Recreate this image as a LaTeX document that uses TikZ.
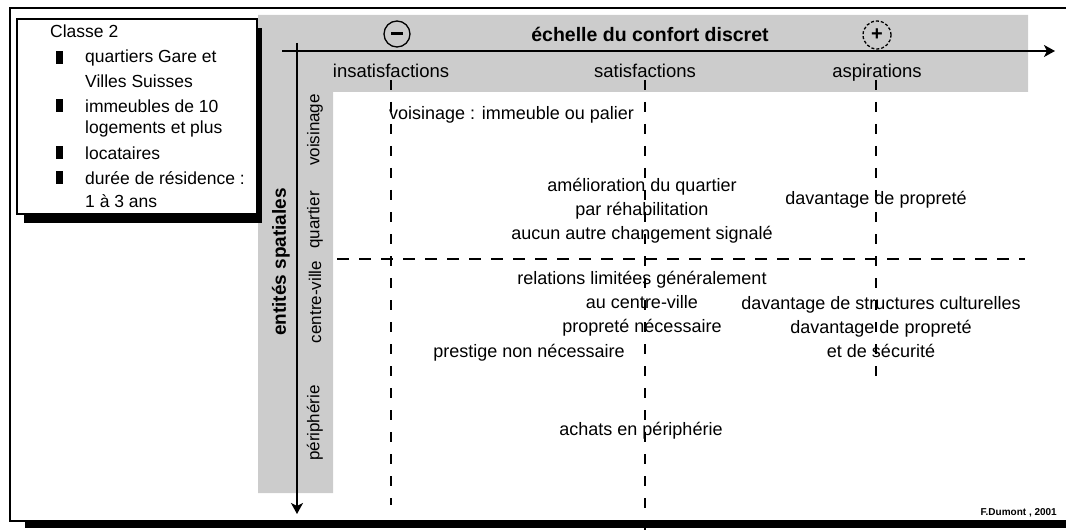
\documentclass[tikz,border=0pt]{standalone}
\usepackage{fontspec}
\setmainfont{Liberation Sans}
\usetikzlibrary{arrows.meta}
\tikzset{
  txt/.style={font=\fontsize{18}{24}\selectfont, inner sep=0pt, align=center},
  lgd/.style={font=\fontsize{17.5}{22}\selectfont, inner sep=0pt, anchor=west},
  hdr/.style={font=\fontsize{18.5}{20}\selectfont, inner sep=0pt, anchor=base},
  vlab/.style={font=\fontsize{17}{20}\selectfont, inner sep=0pt, rotate=90},
  bul/.style={fill=black, minimum width=7pt, minimum height=13pt, inner sep=0pt},
  grid/.style={line width=1.3pt, dash pattern=on 10pt off 12pt},
  axis/.style={line width=1.4pt, -{Stealth[length=11pt,width=12pt,inset=3pt]}},
  band/.style={fill=black!20, draw=none},
}
\begin{document}
\begin{tikzpicture}[x=1pt,y=-1pt]
\useasboundingbox (0,0) rectangle (1066,532);
% outer frame
\fill[black] (25,521) rectangle (1080,528);
\draw[line width=1.3pt] (10,8) rectangle (1080,521);
% gray band
\path[band] (258,15) -- (1028,15) -- (1028,92) -- (333,92) -- (333,493) -- (258,493) -- cycle;
% legend
\fill[black] (24,28) rectangle (262,223);
\draw[line width=1.5pt, fill=white] (17,19) rectangle (257,214);
\node[lgd] (cl) at (50,31) {Classe 2};
\node[bul] (b1) at (59,58) {};
\node[lgd] (l1) at (85,58) {quartiers Gare et};
\node[lgd] (l1b) at (85,81) {Villes Suisses};
\node[bul] (b2) at (59,106) {};
\node[lgd] (l2) at (85,106) {immeubles de 10};
\node[lgd] (l2b) at (85,129) {logements et plus};
\node[bul] (b3) at (59,153) {};
\node[lgd] (l3) at (85,153) {locataires};
\node[bul] (b4) at (59,178) {};
\node[lgd] (l4) at (85,178) {durée de résidence :};
\node[lgd] (l4b) at (85,201) {1 à 3 ans};
% axes
\coordinate (hx0) at (282,51);
\coordinate (hx1) at (1055,51);
\coordinate (vy0) at (297,43);
\coordinate (vy1) at (297,514);
\draw[axis] (hx0) -- (hx1);
\draw[axis] (vy0) -- (vy1);
% signs
\node[draw, circle, line width=1.3pt, minimum size=26pt, inner sep=0pt] (minus) at (397,34) {};
\fill (391,32) rectangle (403,35.5);
\node[draw, circle, line width=1.3pt, dash pattern=on 3pt off 2pt, minimum size=28pt, inner sep=0pt, font=\bfseries\fontsize{20}{20}\selectfont] (plus) at (877,35) {+};
\node[inner sep=0pt, font=\bfseries\fontsize{19.5}{20}\selectfont] (title) at (650,34) {échelle du confort discret};
\node[hdr] (h1) at (391,78) {insatisfactions};
\node[hdr] (h2) at (645,78) {satisfactions};
\node[hdr] (h3) at (877,78) {aspirations};
% vertical labels
\node[vlab, font=\bfseries\fontsize{19}{20}\selectfont] (ent) at (281,262) {entités spatiales};
\node[vlab] (v1) at (315,130) {voisinage};
\node[vlab] (v2) at (315,220) {quartier};
\node[vlab] (v3) at (315,302) {centre-ville};
\node[vlab] (v4) at (315,423) {périphérie};
% grid lines
\coordinate (g1a) at (391,80); \coordinate (g1b) at (391,505);
\coordinate (g2a) at (645,80); \coordinate (g2b) at (645,532);
\coordinate (g3a) at (876,80); \coordinate (g3b) at (876,380);
\coordinate (gha) at (337,259); \coordinate (ghb) at (1025,259);
\draw[grid] (g1a) -- (g1b);
\draw[grid] (g2a) -- (g2b);
\draw[grid] (g3a) -- (g3b);
\draw[grid, dash pattern=on 12pt off 10pt] (gha) -- (ghb);
% cell texts
\node[txt, anchor=west] (t1) at (389,115) {voisinage : immeuble ou palier};
\node[txt] (t2) at (642,211) {amélioration du quartier\\par réhabilitation\\aucun autre changement signalé};
\node[txt] (t3) at (876,200) {davantage de propreté};
\node[txt] (t4) at (642,304) {relations limitées généralement\\au centre-ville\\propreté nécessaire};
\node[txt] (t5) at (529,353) {prestige non nécessaire};
\node[txt] (t6) at (641,431) {achats en périphérie};
\node[txt] (t7) at (881,327) {davantage de structures culturelles\\davantage de propreté\\et de sécurité};
% footer
\node[font=\bfseries\fontsize{10}{11}\selectfont, inner sep=0pt, anchor=east] (foot) at (1057,513) {F.Dumont , 2001};
\end{tikzpicture}
\end{document}
